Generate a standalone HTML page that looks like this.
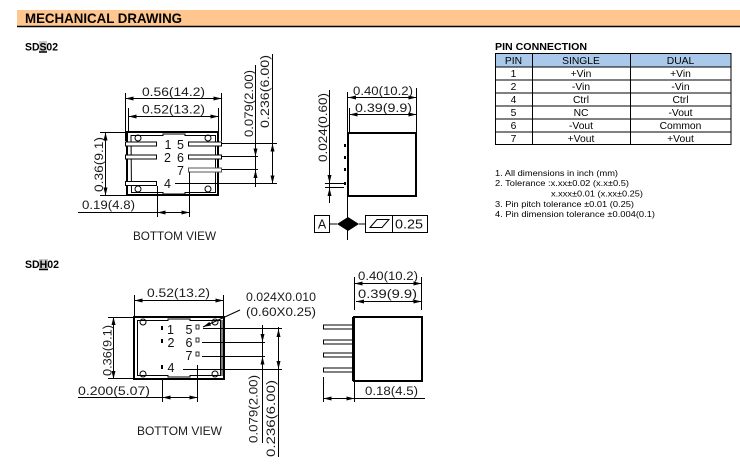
<!DOCTYPE html>
<html><head><meta charset="utf-8"><style>
html,body{margin:0;padding:0;background:#fff;width:740px;height:465px;overflow:hidden}
svg{display:block}
.d{font-family:"Liberation Sans",sans-serif;font-size:11.5px;fill:#1a1a1a}
.p{font-family:"Liberation Sans",sans-serif;font-size:12.5px;fill:#111}
.t{font-family:"Liberation Sans",sans-serif;font-size:10.3px;fill:#000}
.n{font-family:"Liberation Sans",sans-serif;font-size:8.6px;fill:#000}
.b{font-family:"Liberation Sans",sans-serif;font-weight:bold;fill:#000}
</style></head><body>
<svg width="740" height="465" viewBox="0 0 740 465" xmlns="http://www.w3.org/2000/svg">
<defs><marker id="ar" viewBox="0 0 8 4" refX="8" refY="2" markerWidth="8" markerHeight="4" markerUnits="userSpaceOnUse" orient="auto-start-reverse"><path d="M0,0L8,2L0,4z" fill="#000"/></marker></defs>

<!-- Header -->
<rect x="17" y="10" width="723" height="16" fill="#FFC78F"/>
<line x1="17" y1="26.5" x2="740" y2="26.5" stroke="#000" stroke-width="1.5"/>
<text class="b" x="25" y="23" font-size="14" textLength="157" lengthAdjust="spacingAndGlyphs">MECHANICAL DRAWING</text>

<!-- SDS02 label -->
<rect x="39" y="41" width="8" height="11" fill="#c8c8c8"/>
<text class="b" x="25" y="50.5" font-size="11" textLength="33" lengthAdjust="spacingAndGlyphs">SDS02</text>
<line x1="39" y1="52" x2="47" y2="52" stroke="#000" stroke-width="1.5"/>

<!-- SDS02 bottom view -->
<g stroke="#000" stroke-width="1" fill="none">
  <path d="M125.5,93V141M221.5,93V141M128.5,108V132M218.5,108V132"/>
  <path d="M125.5,98.5H221.5" marker-start="url(#ar)" marker-end="url(#ar)"/>
  <path d="M128.5,116.5H218.5" marker-start="url(#ar)" marker-end="url(#ar)"/>
  <rect x="127" y="132" width="91" height="63" stroke-width="2"/>
  <path d="M131,135.5H163V134H185V135.5H215.5V192.5H185V194H163V192.5H131.5Z"/>
  <circle cx="138" cy="138" r="3"/><circle cx="208" cy="138" r="3"/>
  <circle cx="138" cy="189" r="3"/><circle cx="208" cy="189" r="3"/>
  <g fill="#fff">
    <rect x="125.5" y="142" width="31" height="4"/>
    <rect x="125.5" y="155" width="31" height="4"/>
    <rect x="125.5" y="181.5" width="31" height="4"/>
    <rect x="188.5" y="142" width="33" height="4"/>
    <rect x="188.5" y="155" width="33" height="4"/>
    <rect x="188.5" y="168" width="33" height="4" stroke="#555"/>
  </g>
  <path d="M222,143.5H277M222,156.5H258M222,169.5H258M175,183.5H277"/>
  <!-- right dims -->
  <path d="M255.5,65V187M272.5,54V183.5"/>
  <path d="M255.5,147V156.5" marker-end="url(#ar)"/>
  <path d="M255.5,180V170" marker-end="url(#ar)"/>
  <path d="M272.5,153V143.5" marker-end="url(#ar)"/>
  <path d="M272.5,173V183.5" marker-end="url(#ar)"/>
  <!-- left dim -->
  <path d="M105.5,132.5V195.5" marker-start="url(#ar)" marker-end="url(#ar)"/>
  <path d="M100,132.5H127M100,195.5H127"/>
  <!-- 0.19 dim -->
  <path d="M78,212.5H157.5"/>
  <path d="M157.5,212.5H189.5" marker-start="url(#ar)" marker-end="url(#ar)"/>
  <path d="M157.5,186V217M189.5,172V217"/>
</g>
<text class="d" x="142" y="96" textLength="63" lengthAdjust="spacingAndGlyphs">0.56(14.2)</text>
<text class="d" x="142" y="113.5" textLength="63" lengthAdjust="spacingAndGlyphs">0.52(13.2)</text>
<text class="p" x="168" y="149" text-anchor="middle">1</text>
<text class="p" x="180.5" y="149" text-anchor="middle">5</text>
<text class="p" x="167.5" y="162" text-anchor="middle">2</text>
<text class="p" x="180.5" y="162" text-anchor="middle">6</text>
<text class="p" x="180.5" y="175" text-anchor="middle">7</text>
<text class="p" x="167.5" y="188" text-anchor="middle">4</text>
<text class="d" transform="translate(253,137) rotate(-90)" textLength="67" lengthAdjust="spacingAndGlyphs">0.079(2.00)</text>
<text class="d" transform="translate(269,128) rotate(-90)" textLength="73" lengthAdjust="spacingAndGlyphs">0.236(6.00)</text>
<text class="d" transform="translate(103,192) rotate(-90)" textLength="55" lengthAdjust="spacingAndGlyphs">0.36(9.1)</text>
<text class="d" x="82" y="209" textLength="53" lengthAdjust="spacingAndGlyphs">0.19(4.8)</text>
<text class="d" x="133" y="240" textLength="83" lengthAdjust="spacingAndGlyphs">BOTTOM  VIEW</text>

<!-- SDS02 side view -->
<g stroke="#000" stroke-width="1" fill="none">
  <rect x="348" y="133" width="68" height="63" stroke-width="2"/>
  <path d="M347.5,92V240"/>
  <path d="M416.5,88V133M349.5,108V133"/>
  <path d="M348,97.5H416.5" marker-start="url(#ar)" marker-end="url(#ar)"/>
  <path d="M349.5,114.5H416.5" marker-start="url(#ar)" marker-end="url(#ar)"/>
  <path d="M329.5,90V203"/>
  <path d="M329.5,173V183" marker-end="url(#ar)"/>
  <path d="M329.5,197V188" marker-end="url(#ar)"/>
  <path d="M325,183.5H344M325,187.5H344"/>
  <rect x="314.5" y="215.5" width="15" height="17"/>
  <path d="M329.5,224H337M359,224H365"/>
  <rect x="365.5" y="215.5" width="62" height="17"/>
  <path d="M392.5,215.5V232.5"/>
  <polygon points="370,227.5 377,219.5 389,219.5 382,227.5"/>
</g>
<g fill="#000">
  <rect x="344" y="144" width="2" height="3"/><rect x="344" y="156" width="2" height="3"/>
  <rect x="344" y="168" width="2" height="3"/><rect x="344" y="182" width="2" height="3"/>
  <polygon points="337,224 348,217 359,224 348,231"/>
</g>
<text class="d" x="353" y="95" textLength="60" lengthAdjust="spacingAndGlyphs">0.40(10.2)</text>
<text class="d" x="355" y="112" textLength="57" lengthAdjust="spacingAndGlyphs">0.39(9.9)</text>
<text class="d" transform="translate(327,162) rotate(-90)" textLength="69" lengthAdjust="spacingAndGlyphs">0.024(0.60)</text>
<text class="p" x="322" y="228.5" text-anchor="middle">A</text>
<text class="p" x="395" y="228.5" textLength="28" lengthAdjust="spacingAndGlyphs">0.25</text>

<!-- Pin connection table -->
<text class="b" x="495" y="50" font-size="10" textLength="92" lengthAdjust="spacingAndGlyphs">PIN CONNECTION</text>
<rect x="495.5" y="53.5" width="235.5" height="13.5" fill="#A9C8EA"/>
<g stroke="#000" stroke-width="1" fill="none">
  <rect x="495.5" y="53.5" width="235.5" height="91"/>
  <path d="M495.5,67H731M495.5,80H731M495.5,93H731M495.5,106H731M495.5,119H731M495.5,132H731"/>
  <path d="M532.5,53.5V144.5M630.5,53.5V144.5"/>
</g>
<g class="t" text-anchor="middle">
  <text x="513.5" y="64">PIN</text><text x="581" y="64">SINGLE</text><text x="680.5" y="64">DUAL</text>
  <text x="513.5" y="77">1</text><text x="581" y="77">+Vin</text><text x="680.5" y="77">+Vin</text>
  <text x="513.5" y="90">2</text><text x="581" y="90">-Vin</text><text x="680.5" y="90">-Vin</text>
  <text x="513.5" y="103">4</text><text x="581" y="103">Ctrl</text><text x="680.5" y="103">Ctrl</text>
  <text x="513.5" y="116">5</text><text x="581" y="116">NC</text><text x="680.5" y="116">-Vout</text>
  <text x="513.5" y="129">6</text><text x="581" y="129">-Vout</text><text x="680.5" y="129">Common</text>
  <text x="513.5" y="142">7</text><text x="581" y="142">+Vout</text><text x="680.5" y="142">+Vout</text>
</g>
<text class="n" x="495" y="176" textLength="123" lengthAdjust="spacingAndGlyphs">1. All dimensions in inch (mm)</text>
<text class="n" x="495" y="186" textLength="134" lengthAdjust="spacingAndGlyphs">2. Tolerance :x.xx±0.02 (x.x±0.5)</text>
<text class="n" x="551" y="196.5" textLength="92" lengthAdjust="spacingAndGlyphs">x.xxx±0.01 (x.xx±0.25)</text>
<text class="n" x="495" y="207" textLength="139" lengthAdjust="spacingAndGlyphs">3. Pin pitch tolerance ±0.01 (0.25)</text>
<text class="n" x="495" y="217" textLength="160" lengthAdjust="spacingAndGlyphs">4. Pin dimension tolerance ±0.004(0.1)</text>

<!-- SDH02 label -->
<rect x="39" y="259" width="9" height="11" fill="#c8c8c8"/>
<text class="b" x="25" y="268" font-size="11" textLength="34" lengthAdjust="spacingAndGlyphs">SDH02</text>
<line x1="39" y1="269.5" x2="48" y2="269.5" stroke="#000" stroke-width="1.5"/>

<!-- SDH02 bottom view -->
<g stroke="#000" stroke-width="1" fill="none">
  <rect x="134" y="317" width="90" height="62" stroke-width="2"/>
  <path d="M137.5,320.5H168V319H190V320.5H220.5V375.5H190V377H168V375.5H137.5Z"/>
  <path d="M222,320V376"/>
  <circle cx="143" cy="322" r="3"/><circle cx="215" cy="322" r="3"/>
  <circle cx="143" cy="374" r="3"/><circle cx="215" cy="374" r="3"/>
  <rect x="196" y="325" width="3" height="4" stroke-width="0.8"/>
  <rect x="196" y="338" width="3" height="4" stroke-width="0.8"/>
  <rect x="196" y="352" width="3" height="4" stroke-width="0.8"/>
  <path d="M203,328.5H282M202,342.5H265M202,356.5H265M183,369.5H282"/>
  <path d="M240,310L203,327" marker-end="url(#ar)"/>
  <path d="M134.5,295V317M223.5,295V317"/>
  <path d="M134.5,300.5H223.5" marker-start="url(#ar)" marker-end="url(#ar)"/>
  <path d="M113.5,317V379" marker-start="url(#ar)" marker-end="url(#ar)"/>
  <path d="M108,317.5H134M108,378.5H134"/>
  <path d="M78,397.5H162.5"/>
  <path d="M162.5,397.5H197.5" marker-start="url(#ar)" marker-end="url(#ar)"/>
  <path d="M162.5,378V402M197.5,365V402"/>
  <path d="M262.5,325V443M278.5,327V457"/>
  <path d="M262.5,332V342" marker-end="url(#ar)"/>
  <path d="M262.5,367V356.5" marker-end="url(#ar)"/>
  <path d="M278.5,339V329" marker-end="url(#ar)"/>
  <path d="M278.5,359V369" marker-end="url(#ar)"/>
</g>
<g fill="#000">
  <rect x="161" y="326" width="2" height="4"/><rect x="161" y="339" width="2" height="4"/><rect x="161" y="365" width="2" height="4"/>
</g>
<text class="p" x="170.5" y="334" text-anchor="middle">1</text>
<text class="p" x="189" y="334" text-anchor="middle">5</text>
<text class="p" x="171" y="347" text-anchor="middle">2</text>
<text class="p" x="189" y="347" text-anchor="middle">6</text>
<text class="p" x="189" y="360" text-anchor="middle">7</text>
<text class="p" x="171" y="372" text-anchor="middle">4</text>
<text class="d" x="246" y="301" textLength="70" lengthAdjust="spacingAndGlyphs">0.024X0.010</text>
<text class="d" x="246" y="316" textLength="70" lengthAdjust="spacingAndGlyphs">(0.60X0.25)</text>
<text class="d" x="147" y="297" textLength="63" lengthAdjust="spacingAndGlyphs">0.52(13.2)</text>
<text class="d" transform="translate(111.5,376) rotate(-90)" textLength="51" lengthAdjust="spacingAndGlyphs">0.36(9.1)</text>
<text class="d" x="78" y="395" textLength="72" lengthAdjust="spacingAndGlyphs">0.200(5.07)</text>
<text class="d" x="137" y="435" textLength="85" lengthAdjust="spacingAndGlyphs">BOTTOM  VIEW</text>
<text class="d" transform="translate(257.5,443) rotate(-90)" textLength="68" lengthAdjust="spacingAndGlyphs">0.079(2.00)</text>
<text class="d" transform="translate(275,457) rotate(-90)" textLength="77" lengthAdjust="spacingAndGlyphs">0.236(6.00)</text>

<!-- SDH02 side view -->
<g stroke="#000" stroke-width="1" fill="none">
  <rect x="354" y="317" width="68" height="64" stroke-width="2"/>
  <path d="M352.5,317V381"/>
  <g fill="#fff">
    <rect x="323.5" y="325" width="29" height="4"/>
    <rect x="323.5" y="340" width="29" height="4"/>
    <rect x="323.5" y="353" width="29" height="4"/>
    <rect x="323.5" y="368" width="29" height="4"/>
  </g>
  <path d="M354.5,277V310M421.5,277V310"/>
  <path d="M354.5,283.5H421.5" marker-start="url(#ar)" marker-end="url(#ar)"/>
  <path d="M356,301.5H421.5" marker-start="url(#ar)" marker-end="url(#ar)"/>
  <path d="M354.5,398.5H425"/>
  <path d="M323.5,398.5H354.5" marker-start="url(#ar)" marker-end="url(#ar)"/>
  <path d="M323.5,377V402M354.5,381V402"/>
</g>
<text class="d" x="358" y="280" textLength="60" lengthAdjust="spacingAndGlyphs">0.40(10.2)</text>
<text class="d" x="358" y="298" textLength="59" lengthAdjust="spacingAndGlyphs">0.39(9.9)</text>
<text class="d" x="365" y="395" textLength="53" lengthAdjust="spacingAndGlyphs">0.18(4.5)</text>
</svg>
</body></html>
